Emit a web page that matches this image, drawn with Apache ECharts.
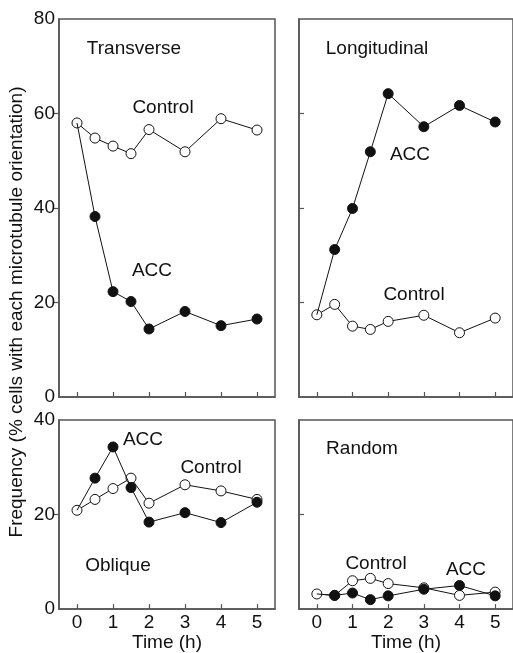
<!DOCTYPE html>
<html>
<head>
<meta charset="utf-8">
<script src="https://cdn.jsdelivr.net/npm/echarts@6/dist/echarts.min.js"></script>
<style>
  html, body { margin: 0; padding: 0; background: #fff; }
  #chart { width: 513px; height: 653px; }
</style>
</head>
<body>
<div id="chart"></div>
<script>
// time points (h)
const hours = [0, 0.5, 1, 1.5, 2, 3, 4, 5];
const hourTicks = [0, 1, 2, 3, 4, 5];

// % cells with each microtubule orientation
const transControl = [58.0, 54.8, 53.1, 51.5, 56.6, 51.9, 58.9, 56.5];
const transAcc = [58.0, 38.2, 22.3, 20.2, 14.4, 18.1, 15.1, 16.5];
const longControl = [17.4, 19.6, 15.0, 14.3, 16.0, 17.3, 13.6, 16.7];
const longAcc = [17.4, 31.2, 39.9, 51.9, 64.2, 57.2, 61.7, 58.2];
const obliqueControl = [20.9, 23.2, 25.5, 27.7, 22.4, 26.3, 25.0, 23.2];
const obliqueAcc = [20.9, 27.7, 34.3, 25.7, 18.4, 20.4, 18.3, 22.6];
const randomControl = [3.2, 2.9, 6.0, 6.5, 5.4, 4.5, 2.9, 3.6];
const randomAcc = [3.2, 2.9, 3.4, 2.0, 2.8, 4.2, 5.0, 2.8];

const FONT = '"Liberation Sans", Arial, sans-serif';
const INK = '#111';
const FRAME = '#555';

const chart = echarts.init(document.getElementById('chart'), null, { renderer: 'canvas' });

const grids = [
  { left: 59, top: 19, width: 216, height: 378 },
  { left: 299, top: 19, width: 216, height: 378 },
  { left: 59, top: 420, width: 216, height: 190 },
  { left: 299, top: 420, width: 216, height: 190 }
].map(g => Object.assign({ show: true, borderColor: FRAME, borderWidth: 1.5, backgroundColor: 'transparent' }, g));

const xAxes = [0, 1, 2, 3].map(i => ({
  type: 'value',
  gridIndex: i,
  min: -0.5,
  max: 5.5,
  splitLine: { show: false },
  axisLine: { onZero: false, lineStyle: { color: FRAME, width: 1.5 } },
  axisTick: { inside: true, length: 5, customValues: hourTicks, lineStyle: { color: FRAME, width: 1.2 } },
  axisLabel: { show: i >= 2, customValues: hourTicks, margin: 4, color: INK, fontSize: 19, fontFamily: FONT },
  name: i >= 2 ? 'Time (h)' : '',
  nameLocation: 'middle',
  nameGap: 20,
  nameTextStyle: { color: INK, fontSize: 19, fontFamily: FONT }
}));

const yAxes = [0, 1, 2, 3].map(i => {
  const top = i < 2;
  const leftSide = i % 2 === 0;
  return {
    type: 'value',
    gridIndex: i,
    min: 0,
    max: top ? 80 : 40,
    interval: 20,
    splitLine: { show: false },
    axisLine: { onZero: false, lineStyle: { color: FRAME, width: 1.5 } },
    axisTick: {
      inside: !leftSide,
      length: 5,
      customValues: top ? [20, 40, 60] : [20],
      lineStyle: { color: FRAME, width: 1.2 }
    },
    axisLabel: { show: leftSide, margin: 4, color: INK, fontSize: 19, fontFamily: FONT }
  };
});

function pairs(ys) {
  return hours.map((h, k) => [h, ys[k]]);
}

function panelSeries(idx, control, acc) {
  const accData = pairs(acc).map((p, k) => k === 0 ? { value: p, symbol: 'none' } : p);
  return [
    {
      type: 'line', xAxisIndex: idx, yAxisIndex: idx, z: 3,
      data: pairs(control),
      symbol: 'circle', symbolSize: 10,
      lineStyle: { color: INK, width: 1 },
      itemStyle: { color: '#fff', borderColor: INK, borderWidth: 1 }
    },
    {
      type: 'line', xAxisIndex: idx, yAxisIndex: idx, z: 4,
      data: accData,
      symbol: 'circle', symbolSize: 10,
      lineStyle: { color: INK, width: 1 },
      itemStyle: { color: INK, borderColor: INK, borderWidth: 1 }
    }
  ];
}

function label(text, x, y) {
  return {
    type: 'text', x: x, y: y, silent: true,
    style: {
      text: text, fill: INK, font: '19px ' + FONT,
      align: 'center', verticalAlign: 'middle',
      textAlign: 'center', textVerticalAlign: 'middle'
    }
  };
}

const yTitle = label('Frequency (% cells with each microtubule orientation)', 17, 312);
yTitle.rotation = Math.PI / 2;

chart.setOption({
  animation: false,
  grid: grids,
  xAxis: xAxes,
  yAxis: yAxes,
  series: [].concat(
    panelSeries(0, transControl, transAcc),
    panelSeries(1, longControl, longAcc),
    panelSeries(2, obliqueControl, obliqueAcc),
    panelSeries(3, randomControl, randomAcc)
  ),
  graphic: [
    yTitle,
    label('Transverse', 134, 49),
    label('Control', 163, 108),
    label('ACC', 152, 271),
    label('Longitudinal', 377, 49),
    label('ACC', 410, 155),
    label('Control', 414, 295),
    label('ACC', 143, 440),
    label('Control', 211, 468),
    label('Oblique', 118, 566),
    label('Random', 362, 449),
    label('Control', 376, 564),
    label('ACC', 466, 570)
  ]
});
</script>
</body>
</html>
